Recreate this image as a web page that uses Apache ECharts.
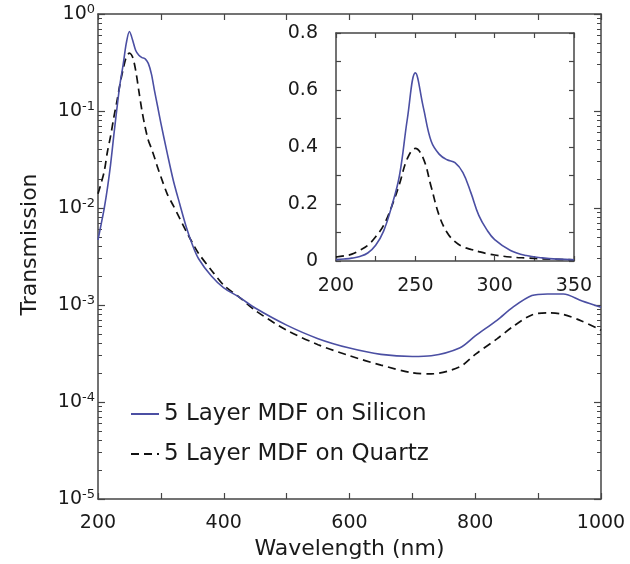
<!DOCTYPE html>
<html>
<head>
<meta charset="utf-8">
<script src="https://cdn.jsdelivr.net/npm/echarts@6/dist/echarts.min.js"></script>
<style>html,body{margin:0;padding:0;background:#fff}#c{width:630px;height:564px}</style>
</head>
<body>
<div id="c"></div>
<script>
// Wavelength samples (nm)
const wavelength = [200,205,210,215,220,225,230,235,240,245,250,255,260,265,270,275,280,285,290,295,300,310,320,330,340,350,360,380,400,425,450,500,550,600,650,700,730,775,800,835,860,890,915,940,970,1000];
// 5 Layer MDF on Silicon
const silicon = [0.0047,0.0068,0.010,0.016,0.028,0.055,0.105,0.19,0.30,0.50,0.66,0.54,0.42,0.375,0.355,0.345,0.31,0.24,0.16,0.11,0.075,0.037,0.019,0.011,0.0065,0.0042,0.0030,0.0020,0.0015,0.0012,0.00093,0.00062,0.00045,0.00036,0.00031,0.000295,0.0003,0.00036,0.00048,0.0007,0.00095,0.00125,0.0013,0.0013,0.0011,0.00095];
// 5 Layer MDF on Quartz
const quartz = [0.014,0.018,0.024,0.038,0.055,0.085,0.125,0.19,0.27,0.36,0.395,0.36,0.26,0.16,0.10,0.068,0.05,0.041,0.033,0.026,0.021,0.014,0.0105,0.0078,0.0058,0.0044,0.0034,0.0023,0.0016,0.0012,0.00088,0.00055,0.00039,0.0003,0.00024,0.0002,0.000195,0.00023,0.00031,0.00045,0.0006,0.00079,0.00083,0.0008,0.00068,0.00055];
const seriesNames = ['5 Layer MDF on Silicon', '5 Layer MDF on Quartz'];
// Tick values / labels
const mainXTicks = [200,300,400,500,600,700,800,900,1000];
const decadeTicks = [1e-5,1e-4,1e-3,1e-2,1e-1,1];
const minorLogTicks = [];
for (let e = -5; e < 0; e++) for (let k = 2; k <= 9; k++) minorLogTicks.push(+(k * Math.pow(10, e)).toPrecision(3));
const insetXTicks = [200,225,250,275,300,325,350];
const insetYTicks = [0,0.1,0.2,0.3,0.4,0.5,0.6,0.7,0.8];

const pairs = a => wavelength.map((w, i) => [w, a[i]]);
const insetPairs = a => wavelength.filter(w => w <= 350).map((w, i) => [w, a[i]]);

const FONT = 'DejaVu Sans';
const AX = '#454545';
const BLUE = '#4b4fa3';
const axisLine = {show: true, onZero: false, lineStyle: {color: AX, width: 1.5}};
const tick = (len, extra) => Object.assign({show: true, inside: true, length: len, lineStyle: {color: AX, width: 1.2}}, extra || {});

const mainGrid = {left: 98, top: 14, width: 503, height: 485, outerBoundsMode: 'none', containLabel: false};
const insetGrid = {left: 336, top: 33, width: 238, height: 228, outerBoundsMode: 'none', containLabel: false};

const chart = echarts.init(document.getElementById('c'));
chart.setOption({
  animation: false,
  backgroundColor: '#fff',
  textStyle: {fontFamily: FONT, color: '#1a1a1a'},
  grid: [mainGrid, insetGrid, Object.assign({}, mainGrid)],
  legend: {
    data: seriesNames,
    orient: 'vertical',
    left: 125, top: 396,
    itemWidth: 28, itemHeight: 14, itemGap: 14,
    itemStyle: {opacity: 0},
    textStyle: {fontFamily: FONT, fontSize: 23, color: '#1a1a1a', lineHeight: 26}
  },
  xAxis: [
    {gridIndex: 0, type: 'value', min: 200, max: 1000, interval: 200, position: 'bottom',
     name: 'Wavelength (nm)', nameLocation: 'middle', nameGap: 38,
     nameTextStyle: {fontFamily: FONT, fontSize: 22, color: '#1a1a1a'},
     axisLine, splitLine: {show: false},
     axisTick: tick(6, {customValues: mainXTicks}),
     axisLabel: {fontFamily: FONT, fontSize: 19, color: '#1a1a1a', margin: 15, formatter: v => String(v)}},
    {gridIndex: 0, type: 'value', min: 200, max: 1000, interval: 100, position: 'top',
     axisLine, splitLine: {show: false},
     axisTick: tick(6),
     axisLabel: {show: false}},
    {gridIndex: 1, type: 'value', min: 200, max: 350, interval: 50, position: 'bottom',
     axisLine, splitLine: {show: false},
     axisTick: tick(5, {customValues: insetXTicks}),
     axisLabel: {fontFamily: FONT, fontSize: 19, color: '#1a1a1a', margin: 16, formatter: v => String(v)}},
    {gridIndex: 1, type: 'value', min: 200, max: 350, interval: 25, position: 'top',
     axisLine, splitLine: {show: false},
     axisTick: tick(5),
     axisLabel: {show: false}},
    {gridIndex: 2, type: 'value', min: 200, max: 1000, show: false}
  ],
  yAxis: [
    {gridIndex: 0, type: 'log', logBase: 10, min: 1e-5, max: 1, position: 'left',
     name: 'Transmission', nameLocation: 'middle', nameGap: 57,
     nameTextStyle: {fontFamily: FONT, fontSize: 22, color: '#1a1a1a', padding: [0, 0, 0, 24]},
     axisLine, splitLine: {show: false},
     axisTick: tick(7, {customValues: decadeTicks}),
     axisLabel: {
       customValues: decadeTicks,
       margin: 3,
       formatter: v => '{b|10}{s|' + Math.round(Math.log10(v)) + '}',
       rich: {
         b: {fontFamily: FONT, fontSize: 19, color: '#1a1a1a', lineHeight: 22},
         s: {fontFamily: FONT, fontSize: 13, color: '#1a1a1a', lineHeight: 22, verticalAlign: 'top', padding: [0, 0, 10, 0]}
       }
     }},
    {gridIndex: 0, type: 'log', logBase: 10, min: 1e-5, max: 1, position: 'right',
     axisLine, splitLine: {show: false},
     axisTick: tick(7, {customValues: decadeTicks}),
     axisLabel: {show: false}},
    {gridIndex: 1, type: 'value', min: 0, max: 0.8, interval: 0.2, position: 'left',
     axisLine, splitLine: {show: false},
     axisTick: tick(5, {customValues: insetYTicks}),
     axisLabel: {fontFamily: FONT, fontSize: 19, color: '#1a1a1a', margin: 18, formatter: v => (v === 0 ? '0' : v.toFixed(1))}},
    {gridIndex: 1, type: 'value', min: 0, max: 0.8, interval: 0.1, position: 'right',
     axisLine, splitLine: {show: false},
     axisTick: tick(5),
     axisLabel: {show: false}},
    {gridIndex: 2, type: 'log', logBase: 10, min: 1e-5, max: 1, position: 'left',
     axisLine: {show: false}, splitLine: {show: false},
     axisTick: tick(4, {customValues: minorLogTicks, lineStyle: {color: AX, width: 1}}),
     axisLabel: {show: false}},
    {gridIndex: 2, type: 'log', logBase: 10, min: 1e-5, max: 1, position: 'right',
     axisLine: {show: false}, splitLine: {show: false},
     axisTick: tick(4, {customValues: minorLogTicks, lineStyle: {color: AX, width: 1}}),
     axisLabel: {show: false}}
  ],
  series: [
    {name: seriesNames[0], type: 'line', xAxisIndex: 0, yAxisIndex: 0, data: pairs(silicon),
     showSymbol: false, symbol: 'none', smooth: 0.3, lineStyle: {color: BLUE, width: 1.6}, itemStyle: {color: BLUE}, z: 3},
    {name: seriesNames[1], type: 'line', xAxisIndex: 0, yAxisIndex: 0, data: pairs(quartz),
     showSymbol: false, symbol: 'none', smooth: 0.3, lineStyle: {color: '#111', width: 1.7, type: [8, 5]}, itemStyle: {color: '#111'}, z: 2},
    {name: seriesNames[0], type: 'line', xAxisIndex: 2, yAxisIndex: 2, data: insetPairs(silicon),
     showSymbol: false, symbol: 'none', smooth: 0.4, lineStyle: {color: BLUE, width: 1.6}, itemStyle: {color: BLUE}, z: 3},
    {name: seriesNames[1], type: 'line', xAxisIndex: 2, yAxisIndex: 2, data: insetPairs(quartz),
     showSymbol: false, symbol: 'none', smooth: 0.4, lineStyle: {color: '#111', width: 1.7, type: [8, 5]}, itemStyle: {color: '#111'}, z: 2}
  ]
});
</script>
</body>
</html>
